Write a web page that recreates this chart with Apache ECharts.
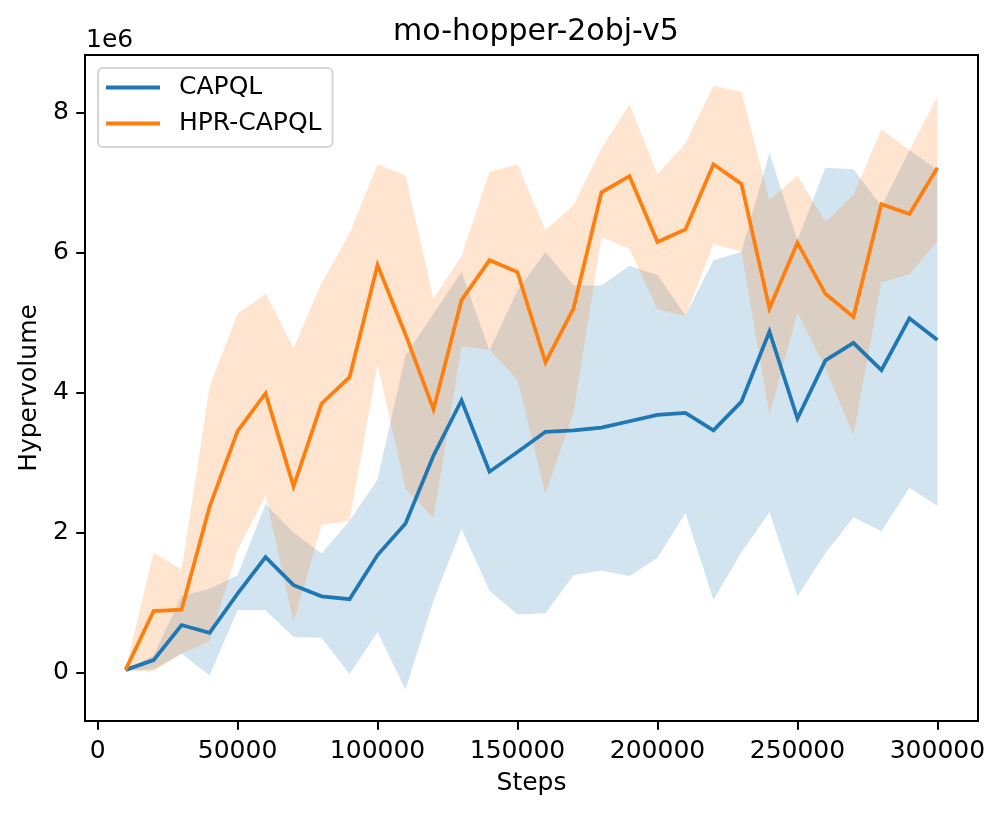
<!DOCTYPE html>
<html>
<head>
<meta charset="utf-8">
<script src="https://cdn.jsdelivr.net/npm/echarts@6/dist/echarts.min.js"></script>
<style>
html,body{margin:0;padding:0;background:#fff;}
#chart{width:1003px;height:814px;}
</style>
</head>
<body>
<div id="chart"></div>
<script>
// Data (hypervolume in units of 1e6)
const steps = [10000, 20000, 30000, 40000, 50000, 60000, 70000, 80000, 90000, 100000,
  110000, 120000, 130000, 140000, 150000, 160000, 170000, 180000, 190000, 200000,
  210000, 220000, 230000, 240000, 250000, 260000, 270000, 280000, 290000, 300000];

const capqlMean  = [0.04, 0.18, 0.68, 0.57, 1.13, 1.65, 1.25, 1.09, 1.05, 1.68,
  2.13, 3.10, 3.89, 2.87, 3.15, 3.44, 3.46, 3.50, 3.59, 3.68,
  3.71, 3.46, 3.87, 4.87, 3.63, 4.46, 4.71, 4.32, 5.06, 4.75];
const capqlUpper = [0.04, 0.25, 1.10, 1.20, 1.39, 2.41, 2.00, 1.70, 2.17, 2.76,
  4.53, 5.13, 5.72, 4.60, 5.46, 6.01, 5.53, 5.53, 5.81, 5.68,
  5.10, 5.89, 6.01, 7.42, 6.18, 7.21, 7.19, 6.66, 7.46, 7.18];
const capqlLower = [0.03, 0.05, 0.27, -0.04, 0.89, 0.89, 0.51, 0.50, -0.02, 0.58,
  -0.24, 1.03, 2.05, 1.17, 0.83, 0.85, 1.39, 1.46, 1.38, 1.64,
  2.28, 1.04, 1.72, 2.29, 1.09, 1.71, 2.22, 2.02, 2.64, 2.38];

const hprMean  = [0.04, 0.88, 0.90, 2.37, 3.45, 3.99, 2.66, 3.84, 4.22, 5.82,
  4.83, 3.76, 5.32, 5.89, 5.72, 4.43, 5.20, 6.86, 7.09, 6.15,
  6.33, 7.26, 6.98, 5.20, 6.14, 5.41, 5.08, 6.69, 6.55, 7.21];
const hprUpper = [0.04, 1.72, 1.47, 4.08, 5.13, 5.41, 4.64, 5.56, 6.27, 7.26,
  7.10, 5.34, 5.95, 7.15, 7.26, 6.32, 6.67, 7.49, 8.11, 7.12,
  7.56, 8.38, 8.29, 6.75, 7.10, 6.44, 6.82, 7.76, 7.46, 8.22];
const hprLower = [0.02, 0.02, 0.27, 0.45, 1.75, 2.53, 0.72, 2.11, 2.17, 4.40,
  2.63, 2.21, 4.66, 4.61, 4.18, 2.55, 3.72, 6.22, 6.05, 5.19,
  5.09, 6.12, 6.01, 3.68, 5.14, 4.35, 3.39, 5.57, 5.69, 6.16];

const xTicks = [0, 50000, 100000, 150000, 200000, 250000, 300000];
const yTicks = [0, 2, 4, 6, 8];
const seriesNames = ['CAPQL', 'HPR-CAPQL'];
const titleText = 'mo-hopper-2obj-v5';
const xLabel = 'Steps';
const yLabel = 'Hypervolume';
const offsetText = '1e6';

const FONT = 'DejaVu Sans';
const BLUE = '#1f77b4', ORANGE = '#ff7f0e';
// legend handle: 54px line followed by a 14px empty spacer
const LEGEND_ICON = 'path://M0,0L54,0L54,4L0,4Z M68,0L68,4';

function bandSeries(upper, lower, fill) {
  return {
    type: 'custom',
    coordinateSystem: 'cartesian2d',
    silent: true,
    z: 1,
    data: [[steps[0], lower[0]]],
    renderItem: function (params, api) {
      const pts = [];
      for (let i = 0; i < steps.length; i++) pts.push(api.coord([steps[i], upper[i]]));
      for (let i = steps.length - 1; i >= 0; i--) pts.push(api.coord([steps[i], lower[i]]));
      return { type: 'polygon', shape: { points: pts }, style: { fill: fill, stroke: null } };
    }
  };
}

function lineSeries(name, vals, color) {
  return {
    name: name,
    type: 'line',
    color: color,
    z: 3,
    symbol: 'none',
    showSymbol: false,
    data: steps.map((s, i) => [s, vals[i]]),
    lineStyle: { width: 3.75, color: color, cap: 'butt', join: 'miter' }
  };
}

const chart = echarts.init(document.getElementById('chart'), null, { renderer: 'canvas' });
chart.setOption({
  animation: false,
  backgroundColor: '#fff',
  textStyle: { fontFamily: FONT },
  title: {
    text: titleText,
    left: 531,
    textAlign: 'center',
    top: 12,
    textStyle: { fontFamily: FONT, fontSize: 30, fontWeight: 'normal', color: '#000' }
  },
  grid: {
    left: 85, top: 55, right: 25, bottom: 93,
    show: true, borderColor: '#000', borderWidth: 2, backgroundColor: 'transparent'
  },
  legend: {
    data: seriesNames,
    orient: 'vertical',
    left: 98, top: 68,
    icon: LEGEND_ICON,
    itemWidth: 68, itemHeight: 4,
    itemGap: 11,
    padding: [7, 11, 11, 8],
    backgroundColor: '#fff',
    borderColor: '#d6d6d6',
    borderWidth: 2,
    borderRadius: 5,
    textStyle: { fontFamily: FONT, fontSize: 25, color: '#000' }
  },
  xAxis: {
    type: 'value',
    min: -4500, max: 314500,
    name: xLabel,
    nameLocation: 'middle',
    nameGap: 50,
    nameTextStyle: { fontFamily: FONT, fontSize: 25, color: '#000' },
    axisLine: { show: false, onZero: false },
    splitLine: { show: false },
    axisTick: { show: true, inside: false, customValues: xTicks, length: 8.75, lineStyle: { color: '#000', width: 2 } },
    axisLabel: { customValues: xTicks, margin: 18, fontFamily: FONT, fontSize: 25, color: '#000', formatter: v => String(v) }
  },
  yAxis: {
    type: 'value',
    min: -0.69, max: 8.82,
    name: yLabel,
    nameLocation: 'middle',
    nameRotate: 90,
    nameGap: 42,
    nameTextStyle: { fontFamily: FONT, fontSize: 25, color: '#000' },
    axisLine: { show: false, onZero: false },
    splitLine: { show: false },
    axisTick: { show: true, inside: false, customValues: yTicks, length: 8.75, lineStyle: { color: '#000', width: 2 } },
    axisLabel: { customValues: yTicks, margin: 16, fontFamily: FONT, fontSize: 25, color: '#000', formatter: v => String(v) }
  },
  graphic: [{
    type: 'text',
    left: 86, top: 28,
    style: { text: offsetText, font: '25px "DejaVu Sans"', fill: '#000' }
  }],
  series: [
    bandSeries(capqlUpper, capqlLower, 'rgba(31,119,180,0.2)'),
    bandSeries(hprUpper, hprLower, 'rgba(255,127,14,0.2)'),
    lineSeries(seriesNames[0], capqlMean, BLUE),
    lineSeries(seriesNames[1], hprMean, ORANGE)
  ]
});
</script>
</body>
</html>
